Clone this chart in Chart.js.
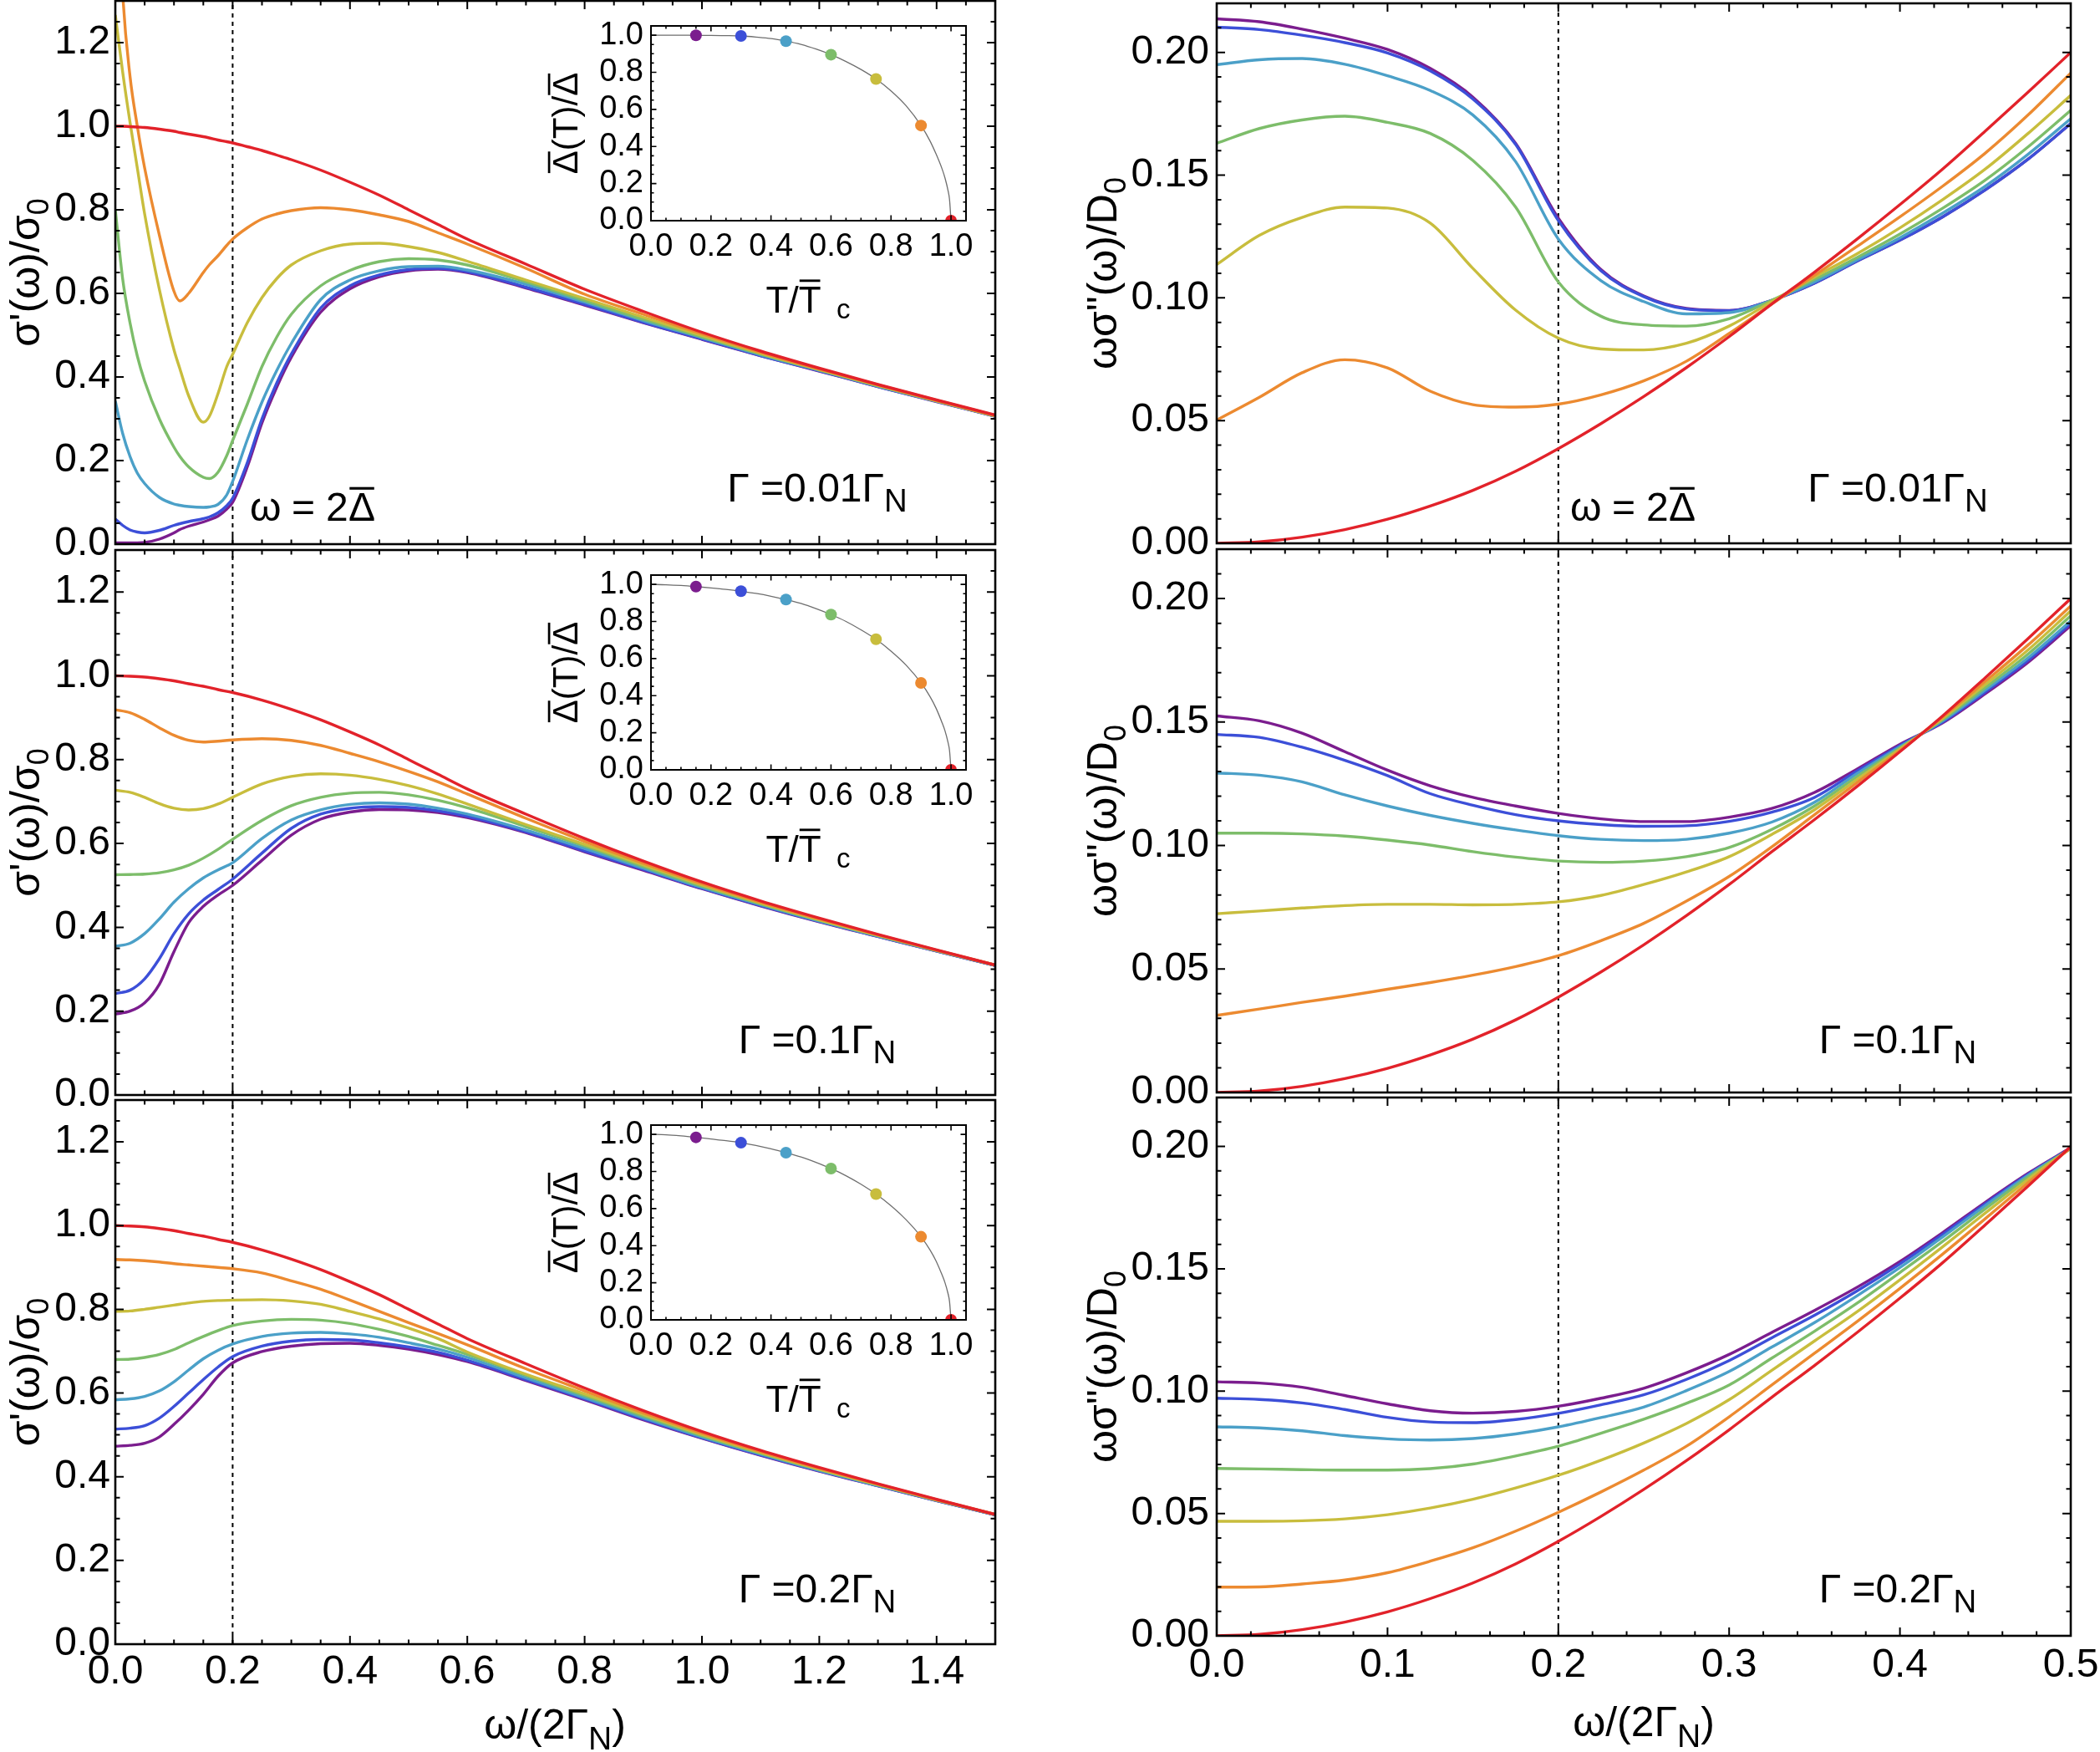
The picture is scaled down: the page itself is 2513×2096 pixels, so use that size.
<!DOCTYPE html>
<html><head><meta charset="utf-8">
<script src="https://cdn.jsdelivr.net/npm/chart.js@4/dist/chart.umd.min.js"></script>
<style>
html,body{margin:0;padding:0;background:#fff;width:2513px;height:2096px;overflow:hidden;position:relative;}
canvas{position:absolute;}
</style></head><body>
<script>
// ================= DATA =================
// series order: purple, blue, cyan, green, yellow, orange, red (T/Tc = 0.15 ... 1.0)
const seriesNames = ['purple','blue','cyan','green','yellow','orange','red'];
const seriesColors = ['#7b1d8e','#3c4fd8','#4ba0c8','#7dbd6a','#c8bd3d','#ec8a30','#e2222a'];
const gapMarkX = 0.2;   // omega = 2 Delta-bar

// ---- sigma'(w)/sigma0, Gamma = 0.01 Gamma_N ----
const xReA = [0,0.0125,0.025,0.0375,0.05,0.075,0.1,0.11,0.125,0.15,0.16,0.175,0.19,0.2,0.225,0.25,0.275,0.3,0.35,0.4,0.45,0.5,0.55,0.6,0.7,0.8,0.9,1.0,1.1,1.2,1.3,1.4,1.5];
const reA_purple = [0.003,0.003,0.003,0.003,0.004,0.012,0.027,0.035,0.043,0.053,0.058,0.067,0.084,0.10,0.185,0.29,0.375,0.447,0.555,0.611,0.64,0.654,0.658,0.65,0.613,0.572,0.53,0.49,0.451,0.414,0.377,0.341,0.306];
const reA_blue   = [0.06,0.045,0.034,0.029,0.027,0.033,0.045,0.049,0.054,0.061,0.065,0.075,0.092,0.11,0.195,0.30,0.385,0.455,0.565,0.618,0.644,0.657,0.66,0.652,0.615,0.574,0.531,0.491,0.451,0.415,0.377,0.342,0.306];
const reA_cyan   = [0.342,0.265,0.21,0.17,0.145,0.112,0.096,0.093,0.09,0.088,0.089,0.095,0.118,0.15,0.25,0.34,0.415,0.48,0.585,0.632,0.654,0.664,0.665,0.656,0.622,0.579,0.535,0.494,0.453,0.416,0.378,0.342,0.307];
const reA_green  = [0.80,0.635,0.53,0.45,0.39,0.30,0.232,0.21,0.185,0.16,0.157,0.172,0.212,0.248,0.335,0.425,0.495,0.55,0.618,0.655,0.676,0.683,0.68,0.668,0.628,0.583,0.538,0.496,0.455,0.417,0.379,0.343,0.307];
const reA_yellow = [1.266,1.13,1.01,0.9,0.79,0.61,0.465,0.42,0.355,0.292,0.305,0.36,0.425,0.454,0.53,0.59,0.635,0.668,0.702,0.718,0.72,0.712,0.698,0.677,0.632,0.588,0.543,0.499,0.457,0.418,0.38,0.343,0.307];
const reA_orange = [1.75,1.32,1.12,1.0,0.9,0.74,0.605,0.582,0.60,0.65,0.668,0.69,0.715,0.73,0.757,0.778,0.79,0.798,0.805,0.80,0.788,0.772,0.745,0.718,0.66,0.598,0.55,0.503,0.459,0.419,0.381,0.344,0.308];
const reA_red    = [1.0,1.0,0.999,0.998,0.997,0.993,0.988,0.985,0.981,0.975,0.972,0.967,0.963,0.96,0.951,0.942,0.931,0.92,0.895,0.866,0.835,0.80,0.765,0.73,0.67,0.61,0.557,0.507,0.462,0.421,0.382,0.345,0.309];

// ---- sigma'(w)/sigma0, Gamma = 0.1 and 0.2 Gamma_N ----
const xReBC = [0,0.025,0.05,0.075,0.1,0.125,0.15,0.175,0.2,0.25,0.3,0.35,0.4,0.45,0.5,0.55,0.6,0.7,0.8,0.9,1.0,1.1,1.2,1.3,1.4,1.5];
const reB_purple = [0.193,0.2,0.22,0.264,0.342,0.411,0.45,0.477,0.50,0.56,0.62,0.658,0.675,0.681,0.68,0.674,0.662,0.626,0.58,0.536,0.492,0.451,0.413,0.378,0.343,0.309];
const reB_blue   = [0.242,0.25,0.277,0.325,0.385,0.432,0.465,0.49,0.515,0.577,0.636,0.67,0.684,0.688,0.686,0.678,0.665,0.628,0.582,0.538,0.493,0.452,0.414,0.378,0.343,0.309];
const reB_cyan   = [0.355,0.362,0.385,0.42,0.46,0.492,0.518,0.537,0.554,0.612,0.656,0.68,0.693,0.697,0.694,0.684,0.67,0.632,0.588,0.541,0.495,0.454,0.415,0.379,0.344,0.309];
const reB_green  = [0.5255,0.526,0.527,0.53,0.537,0.548,0.565,0.586,0.61,0.655,0.69,0.71,0.72,0.722,0.716,0.703,0.685,0.64,0.594,0.545,0.498,0.456,0.417,0.38,0.344,0.31];
const reB_yellow = [0.727,0.722,0.71,0.695,0.684,0.68,0.683,0.694,0.71,0.742,0.76,0.766,0.763,0.753,0.738,0.718,0.694,0.645,0.598,0.549,0.501,0.458,0.418,0.381,0.345,0.31];
const reB_orange = [0.919,0.912,0.896,0.876,0.858,0.846,0.842,0.844,0.847,0.85,0.846,0.834,0.815,0.795,0.772,0.747,0.718,0.66,0.605,0.553,0.504,0.46,0.42,0.382,0.345,0.31];
const reB_red    = [1.0,0.999,0.997,0.993,0.988,0.981,0.975,0.967,0.96,0.942,0.92,0.895,0.866,0.835,0.80,0.765,0.73,0.67,0.612,0.558,0.508,0.463,0.422,0.383,0.346,0.31];

const reC_purple = [0.473,0.475,0.48,0.495,0.525,0.559,0.597,0.64,0.672,0.699,0.712,0.718,0.719,0.714,0.705,0.692,0.675,0.63,0.584,0.536,0.492,0.451,0.413,0.378,0.343,0.309];
const reC_blue   = [0.514,0.516,0.522,0.54,0.568,0.6,0.632,0.662,0.687,0.712,0.724,0.728,0.727,0.72,0.71,0.697,0.678,0.632,0.586,0.538,0.493,0.452,0.414,0.378,0.343,0.309];
const reC_cyan   = [0.584,0.586,0.592,0.605,0.627,0.655,0.682,0.702,0.717,0.735,0.743,0.745,0.741,0.733,0.72,0.705,0.685,0.636,0.589,0.541,0.495,0.454,0.415,0.379,0.344,0.309];
const reC_green  = [0.68,0.681,0.685,0.692,0.704,0.72,0.735,0.749,0.761,0.772,0.776,0.774,0.766,0.752,0.735,0.714,0.692,0.642,0.594,0.545,0.498,0.456,0.417,0.38,0.344,0.31];
const reC_yellow = [0.795,0.796,0.8,0.805,0.81,0.815,0.819,0.821,0.822,0.823,0.82,0.812,0.795,0.777,0.755,0.73,0.698,0.645,0.598,0.549,0.501,0.458,0.418,0.381,0.345,0.31];
const reC_orange = [0.919,0.918,0.916,0.913,0.909,0.906,0.903,0.9,0.897,0.887,0.868,0.848,0.822,0.795,0.768,0.742,0.715,0.658,0.605,0.553,0.504,0.46,0.42,0.382,0.345,0.31];
const reC_red    = [1.0,0.999,0.997,0.993,0.988,0.981,0.975,0.967,0.96,0.942,0.92,0.895,0.866,0.835,0.80,0.765,0.73,0.67,0.612,0.558,0.508,0.463,0.422,0.383,0.346,0.31];

// ---- w sigma''(w)/D0 ----
const xIm = [0,0.025,0.05,0.075,0.1,0.125,0.15,0.175,0.2,0.225,0.25,0.275,0.3,0.325,0.35,0.375,0.4,0.425,0.45,0.475,0.5];
const imA_purple = [0.2137,0.2125,0.2095,0.2058,0.2012,0.1935,0.1818,0.163,0.1325,0.1115,0.1008,0.0957,0.0949,0.099,0.106,0.115,0.1235,0.133,0.144,0.1565,0.171];
const imA_blue   = [0.2103,0.2093,0.207,0.204,0.1998,0.1925,0.181,0.1625,0.1315,0.111,0.1005,0.0955,0.0948,0.099,0.106,0.115,0.1235,0.133,0.144,0.1565,0.171];
const imA_cyan   = [0.195,0.197,0.1975,0.1952,0.1905,0.1845,0.1745,0.1555,0.124,0.107,0.0985,0.0935,0.094,0.099,0.1065,0.1155,0.1245,0.1345,0.1455,0.1585,0.173];
const imA_green  = [0.163,0.169,0.1725,0.174,0.1715,0.167,0.156,0.137,0.1065,0.0925,0.089,0.0885,0.0915,0.099,0.1075,0.1165,0.126,0.1365,0.148,0.1615,0.1764];
const imA_yellow = [0.1136,0.1255,0.1328,0.137,0.1366,0.1305,0.112,0.095,0.0836,0.0792,0.0788,0.0815,0.0885,0.0985,0.1085,0.118,0.1285,0.14,0.1525,0.167,0.1825];
const imA_orange = [0.0502,0.0595,0.0695,0.0748,0.0715,0.062,0.0565,0.0555,0.0567,0.0605,0.0662,0.0742,0.0855,0.0975,0.1092,0.121,0.133,0.1455,0.159,0.1745,0.1916];
const imA_red    = [0,0.0006,0.0025,0.0056,0.0098,0.0152,0.0216,0.0294,0.0386,0.0488,0.0598,0.0716,0.0842,0.0975,0.1105,0.124,0.138,0.1525,0.168,0.1838,0.2];

const imB_purple = [0.1525,0.1505,0.1455,0.138,0.1305,0.1242,0.1195,0.116,0.113,0.1108,0.1097,0.1097,0.1115,0.115,0.1215,0.131,0.141,0.1497,0.1615,0.1742,0.189];
const imB_blue   = [0.145,0.1438,0.1398,0.1345,0.1283,0.121,0.1163,0.1125,0.110,0.1085,0.1078,0.108,0.1098,0.1135,0.1195,0.1302,0.1405,0.15,0.1622,0.175,0.19];
const imB_cyan   = [0.1294,0.1285,0.1258,0.1205,0.116,0.1122,0.109,0.1063,0.104,0.1025,0.102,0.1025,0.105,0.1095,0.1175,0.1292,0.14,0.1505,0.163,0.176,0.191];
const imB_green  = [0.105,0.105,0.1047,0.1038,0.1022,0.1002,0.0975,0.0953,0.0937,0.0932,0.0937,0.0955,0.0992,0.1065,0.116,0.128,0.1395,0.151,0.164,0.1775,0.193];
const imB_yellow = [0.0724,0.0735,0.0747,0.0757,0.0762,0.0762,0.076,0.0762,0.0772,0.0798,0.0842,0.0893,0.0955,0.1045,0.1145,0.1268,0.139,0.1515,0.1652,0.1792,0.195];
const imB_orange = [0.0312,0.0338,0.0365,0.039,0.0418,0.0445,0.0475,0.051,0.0554,0.0615,0.0685,0.0775,0.0875,0.0995,0.1125,0.1255,0.1385,0.152,0.1665,0.1812,0.197];
const imB_red    = [0,0.0006,0.0025,0.0056,0.0098,0.0152,0.0216,0.0294,0.0386,0.0488,0.0598,0.0716,0.0842,0.0975,0.1105,0.124,0.138,0.1525,0.168,0.1838,0.2];

const imC_purple = [0.1038,0.1033,0.1016,0.0982,0.0948,0.092,0.091,0.0917,0.0938,0.0971,0.1012,0.1075,0.115,0.124,0.133,0.1425,0.153,0.1648,0.1772,0.189,0.1995];
const imC_blue   = [0.0971,0.0966,0.0952,0.0925,0.0893,0.0874,0.0871,0.0884,0.0909,0.0944,0.0985,0.1048,0.1125,0.1218,0.131,0.141,0.152,0.164,0.1766,0.1886,0.1993];
const imC_cyan   = [0.0854,0.085,0.0838,0.0818,0.0805,0.080,0.0806,0.0825,0.0854,0.0892,0.0935,0.1002,0.108,0.118,0.128,0.139,0.1505,0.163,0.1758,0.1882,0.1992];
const imC_green  = [0.0684,0.0682,0.0679,0.0677,0.0677,0.0683,0.0702,0.0735,0.0775,0.0828,0.0885,0.095,0.1025,0.1135,0.1245,0.136,0.1485,0.1612,0.1745,0.1875,0.1992];
const imC_yellow = [0.0468,0.0468,0.047,0.0478,0.0495,0.0522,0.0558,0.0604,0.0656,0.0718,0.0788,0.0868,0.0965,0.1085,0.1205,0.1325,0.1455,0.159,0.1728,0.1865,0.1993];
const imC_orange = [0.0199,0.02,0.0212,0.0228,0.0258,0.0305,0.036,0.0428,0.0505,0.0588,0.0677,0.0775,0.0895,0.1025,0.1155,0.1285,0.142,0.156,0.1705,0.1852,0.1995];
const imC_red    = [0,0.0006,0.0025,0.0056,0.0098,0.0152,0.0216,0.0294,0.0386,0.0488,0.0598,0.0716,0.0842,0.0975,0.1105,0.124,0.138,0.1525,0.168,0.1838,0.2];

// ---- insets: gap(T)/gap(0) vs T/Tc ----
const insetT = [0,0.05,0.1,0.15,0.2,0.25,0.3,0.35,0.4,0.45,0.5,0.55,0.6,0.65,0.7,0.75,0.8,0.85,0.9,0.93,0.95,0.97,0.98,0.99,0.995,1.0];
const gapA = [1.0,1.0,1.0,0.999,0.999,0.998,0.996,0.99,0.982,0.968,0.95,0.925,0.895,0.858,0.815,0.764,0.70,0.62,0.513,0.43,0.36,0.28,0.23,0.163,0.115,0];
const gapB = [1.0,0.998,0.994,0.988,0.981,0.973,0.963,0.951,0.936,0.918,0.897,0.869,0.837,0.8,0.755,0.704,0.64,0.565,0.469,0.395,0.333,0.255,0.21,0.148,0.105,0];
const gapC = [1.0,0.998,0.992,0.984,0.975,0.966,0.955,0.94,0.922,0.901,0.878,0.849,0.816,0.777,0.731,0.678,0.615,0.54,0.448,0.377,0.318,0.243,0.2,0.142,0.1,0];
const dotT = [0.15,0.3,0.45,0.6,0.75,0.9,1.0];
const dotA = [0.999,0.996,0.968,0.895,0.764,0.513,0];
const dotB = [0.988,0.963,0.918,0.837,0.704,0.469,0];
const dotC = [0.984,0.955,0.901,0.816,0.678,0.448,0];

// ---- tick labels ----
const reXTicks = [0,0.2,0.4,0.6,0.8,1.0,1.2,1.4];
const reYTicks = [0,0.2,0.4,0.6,0.8,1.0,1.2];
const imXTicks = [0,0.1,0.2,0.3,0.4,0.5];
const imYTicks = [0,0.05,0.10,0.15,0.20];
const inXTicks = [0,0.2,0.4,0.6,0.8,1.0];
const inYTicks = [0,0.2,0.4,0.6,0.8,1.0];

// ================= DRAWING =================
const FONT = "'Liberation Sans', Arial, Helvetica, sans-serif";
Chart.defaults.font.family = FONT;
Chart.defaults.color = '#000';

function steps(a, b, s) { const out = []; const n = Math.round((b - a) / s); for (let i = 0; i <= n; i++) out.push(Math.round((a + i * s) * 10000) / 10000); return out; }

const framePlugin = {
  id: 'frame',
  afterDraw(chart, _a, o) {
    if (!o || !o.on) return;
    const {ctx, chartArea: a} = chart;
    const sx = chart.scales.x, sy = chart.scales.y;
    ctx.save();
    ctx.strokeStyle = '#000';
    ctx.lineWidth = o.tw;
    ctx.beginPath();
    const xt = (vals, len) => vals.forEach(v => {
      const p = sx.getPixelForValue(v);
      if (p < a.left + 1 || p > a.right - 1) return;
      ctx.moveTo(p, a.bottom); ctx.lineTo(p, a.bottom - len);
      ctx.moveTo(p, a.top); ctx.lineTo(p, a.top + len);
    });
    const yt = (vals, len) => vals.forEach(v => {
      const p = sy.getPixelForValue(v);
      if (p < a.top + 1 || p > a.bottom - 1) return;
      ctx.moveTo(a.left, p); ctx.lineTo(a.left + len, p);
      ctx.moveTo(a.right, p); ctx.lineTo(a.right - len, p);
    });
    xt(o.xMinor, o.minor); xt(o.xMajor, o.major); yt(o.yMinor, o.minor); yt(o.yMajor, o.major);
    ctx.stroke();
    ctx.lineWidth = o.lw;
    ctx.strokeRect(a.left, a.top, a.right - a.left, a.bottom - a.top);
    ctx.restore();
  }
};

function drawRich(ctx, it, ox, oy) {
  ctx.save();
  ctx.translate(it.x - ox, it.y - oy);
  if (it.rot) ctx.rotate(it.rot);
  ctx.fillStyle = '#000';
  ctx.textBaseline = 'alphabetic';
  ctx.textAlign = 'left';
  const size = it.size;
  const parts = it.segs.map(s => {
    const fs = s.sub ? size * (s.scale || 0.72) : size;
    ctx.font = fs + 'px ' + FONT;
    return {s, fs, w: ctx.measureText(s.t).width};
  });
  const total = parts.reduce((acc, p) => acc + p.w, 0);
  const start = it.align === 'center' ? -total / 2 : (it.align === 'right' ? -total : 0);
  let cx = start;
  parts.forEach(p => {
    if (typeof p.s.at === 'number') cx = start + p.s.at;
    ctx.font = p.fs + 'px ' + FONT;
    const dy = p.s.sub ? size * (p.s.drop || 0.22) : 0;
    ctx.fillText(p.s.t, cx, dy);
    if (p.s.bar) ctx.fillRect(cx + p.w * 0.04, -size * (p.s.barH || 0.84), p.w * 0.92, Math.max(2.5, size * 0.065));
    cx += p.w;
  });
  ctx.restore();
}

// text plugin per chart: items captured in a closure (kept out of Chart.js option proxies)
function textPlugin(items, ox, oy) {
  return {
    id: 'deco',
    afterDraw(chart) { items.forEach(it => drawRich(chart.ctx, it, ox, oy)); }
  };
}

function makeChart(p) {
  const cv = document.createElement('canvas');
  const left = p.rect.x - p.yw, top = p.rect.y - p.pt;
  const W = p.yw + p.rect.w + p.pr, H = p.pt + p.rect.h + p.xh;
  cv.width = W; cv.height = H;
  cv.style.left = left + 'px'; cv.style.top = top + 'px';
  cv.style.width = W + 'px'; cv.style.height = H + 'px';
  document.body.appendChild(cv);
  return new Chart(cv.getContext('2d'), {
    type: 'line',
    data: {datasets: p.datasets},
    options: {
      responsive: false, animation: false, devicePixelRatio: 1, events: [],
      layout: {padding: {left: 0, top: p.pt, right: p.pr, bottom: 0}},
      plugins: {
        legend: {display: false}, tooltip: {enabled: false},
        frame: Object.assign({on: true}, p.frame)
      },
      scales: {
        x: {
          type: 'linear', position: 'bottom', min: p.xmin, max: p.xmax,
          grid: {display: false, drawTicks: false}, border: {display: false},
          ticks: {display: p.xLabels, autoSkip: false, maxRotation: 0, minRotation: 0, padding: p.xPad,
                  color: '#000', font: {size: p.tickSize, lineHeight: 1}, callback: v => Number(v).toFixed(p.xDec)},
          afterBuildTicks: s => { s.ticks = p.xTicks.map(v => ({value: v})); },
          afterFit: s => { s.height = p.xh; s.paddingLeft = 0; s.paddingRight = 0; }
        },
        y: {
          type: 'linear', position: 'left', min: p.ymin, max: p.ymax,
          grid: {display: false, drawTicks: false}, border: {display: false},
          ticks: {display: true, autoSkip: false, padding: p.yPad, color: '#000',
                  font: {size: p.tickSize, lineHeight: 1}, callback: v => Number(v).toFixed(p.yDec)},
          afterBuildTicks: s => { s.ticks = p.yTicks.map(v => ({value: v})); },
          afterFit: s => { s.width = p.yw; s.paddingTop = 0; s.paddingBottom = 0; }
        }
      }
    },
    plugins: [framePlugin, textPlugin(p.texts, left, top)]
  });
}

function curveSets(xs, ys) {
  return ys.map((arr, i) => ({
    data: xs.map((x, j) => ({x: x, y: arr[j]})),
    borderColor: seriesColors[i], backgroundColor: seriesColors[i],
    borderWidth: 3.4, pointRadius: 0, fill: false,
    cubicInterpolationMode: 'monotone', order: ys.length - i
  }));
}
function markerSet(ymin, ymax) {
  return {
    data: [{x: gapMarkX, y: ymin}, {x: gapMarkX, y: ymax}],
    borderColor: '#000', borderWidth: 2, borderDash: [5, 5], pointRadius: 0,
    tension: 0, cubicInterpolationMode: 'default', fill: false, order: 50
  };
}

const PI2 = -Math.PI / 2;
const sigRe = [{t: "σ'(ω)/σ"}, {t: '0', sub: true}];
const sigIm = [{t: 'ωσ"(ω)/D'}, {t: '0', sub: true}];
const gapTxt = [{t: 'ω', at: 0}, {t: '=', at: 50}, {t: '2', at: 91}, {t: 'Δ', bar: true, at: 118}];
const xTitle = [{t: 'ω/(2Γ'}, {t: 'N', sub: true, scale: 0.78, drop: 0.26}, {t: ')'}];
const gammaTxt = g => [{t: 'Γ =' + g + 'Γ'}, {t: 'N', sub: true, scale: 0.8, drop: 0.25}];

const leftFrame = {xMajor: steps(0, 1.5, 0.2), xMinor: steps(0, 1.5, 0.05), yMajor: steps(0, 1.3, 0.2), yMinor: steps(0, 1.3, 0.05), major: 10, minor: 5.5, lw: 2.6, tw: 2};
const rightFrame = {xMajor: steps(0, 0.5, 0.1), xMinor: steps(0, 0.5, 0.02), yMajor: steps(0, 0.22, 0.05), yMinor: steps(0, 0.22, 0.01), major: 10, minor: 5.5, lw: 2.6, tw: 2};
const insetFrame = {xMajor: steps(0, 1.05, 0.2), xMinor: steps(0, 1.05, 0.05), yMajor: steps(0, 1.05, 0.2), yMinor: steps(0, 1.05, 0.05), major: 6.5, minor: 3.5, lw: 2, tw: 1.6};

const leftRects = [{x: 138, y: 1, w: 1053, h: 650}, {x: 138, y: 658, w: 1053, h: 652}, {x: 138, y: 1316, w: 1053, h: 651}];
const rightRects = [{x: 1456, y: 4, w: 1022, h: 646}, {x: 1456, y: 657, w: 1022, h: 650}, {x: 1456, y: 1313, w: 1022, h: 644}];
const reSets = [
  [xReA, [reA_purple, reA_blue, reA_cyan, reA_green, reA_yellow, reA_orange, reA_red]],
  [xReBC, [reB_purple, reB_blue, reB_cyan, reB_green, reB_yellow, reB_orange, reB_red]],
  [xReBC, [reC_purple, reC_blue, reC_cyan, reC_green, reC_yellow, reC_orange, reC_red]]
];
const imSets = [
  [imA_purple, imA_blue, imA_cyan, imA_green, imA_yellow, imA_orange, imA_red],
  [imB_purple, imB_blue, imB_cyan, imB_green, imB_yellow, imB_orange, imB_red],
  [imC_purple, imC_blue, imC_cyan, imC_green, imC_yellow, imC_orange, imC_red]
];
const gammaVals = ['0.01', '0.1', '0.2'];
const labelBase = [600, 1260, 1917];

for (let r = 0; r < 3; r++) {
  const L = leftRects[r], R = rightRects[r];
  const last = r === 2;
  const lt = [
    {x: 47, y: L.y + L.h / 2, rot: PI2, size: 50, align: 'center', segs: sigRe},
    {x: 978, y: labelBase[r], size: 48, align: 'center', segs: gammaTxt(gammaVals[r])}
  ];
  if (r === 0) lt.push({x: 299, y: 623, size: 48, align: 'left', segs: gapTxt});
  if (last) lt.push({x: 664, y: 2080, size: 50, align: 'center', segs: xTitle});
  makeChart({
    rect: L, yw: 138, pt: L.y, pr: 12, xh: last ? 2096 - (L.y + L.h) : 40,
    xmin: 0, xmax: 1.5, ymin: 0, ymax: 1.3, xTicks: reXTicks, yTicks: reYTicks,
    xDec: 1, yDec: 1, xLabels: last, xPad: 10, yPad: 6, tickSize: 48,
    datasets: curveSets(reSets[r][0], reSets[r][1]).concat([markerSet(0, 1.3)]),
    frame: leftFrame, texts: lt
  });
  const rt = [
    {x: 1336, y: R.y + R.h / 2, rot: PI2, size: 50, align: 'center', segs: sigIm},
    {x: 2271, y: labelBase[r], size: 48, align: 'center', segs: gammaTxt(gammaVals[r])}
  ];
  if (r === 0) rt.push({x: 1879, y: 623, size: 48, align: 'left', segs: gapTxt});
  if (last) rt.push({x: 1967, y: 2077, size: 50, align: 'center', segs: xTitle});
  makeChart({
    rect: R, yw: 216, pt: R.y, pr: 35, xh: last ? 2096 - (R.y + R.h) : 40,
    xmin: 0, xmax: 0.5, ymin: 0, ymax: 0.22, xTicks: imXTicks, yTicks: imYTicks,
    xDec: 1, yDec: 2, xLabels: last, xPad: 12, yPad: 9, tickSize: 48,
    datasets: curveSets(xIm, imSets[r]).concat([markerSet(0, 0.22)]),
    frame: rightFrame, texts: rt
  });
}

// insets
const insetTops = [31, 688, 1346];
const gaps = [gapA, gapB, gapC];
const dots = [dotA, dotB, dotC];
for (let r = 0; r < 3; r++) {
  const I = {x: 779, y: insetTops[r], w: 377, h: 233};
  makeChart({
    rect: I, yw: 150, pt: 8, pr: 30, xh: 130,
    xmin: 0, xmax: 1.05, ymin: 0, ymax: 1.05, xTicks: inXTicks, yTicks: inYTicks,
    xDec: 1, yDec: 1, xLabels: true, xPad: 13, yPad: 9, tickSize: 38,
    datasets: [
      {data: dotT.map((t, j) => ({x: t, y: dots[r][j]})), showLine: false, pointRadius: 7, pointBorderWidth: 0,
       pointBackgroundColor: seriesColors, borderColor: 'rgba(0,0,0,0)', clip: 0, order: 0},
      {data: insetT.map((t, j) => ({x: t, y: gaps[r][j]})), borderColor: '#6e6e6e', borderWidth: 1.3,
       pointRadius: 0, cubicInterpolationMode: 'monotone', fill: false, order: 1}
    ],
    frame: insetFrame,
    texts: [
      {x: 691, y: I.y + I.h / 2, rot: PI2, size: 42, align: 'center', segs: [{t: 'Δ', bar: true}, {t: '(T)/'}, {t: 'Δ', bar: true}]},
      {x: 967, y: I.y + I.h + 110, size: 44, align: 'center', segs: [{t: 'T/'}, {t: 'T', bar: true, barH: 0.9}, {t: '  c', sub: true, scale: 0.75, drop: 0.16}]}
    ]
  });
}
</script>
</body></html>
